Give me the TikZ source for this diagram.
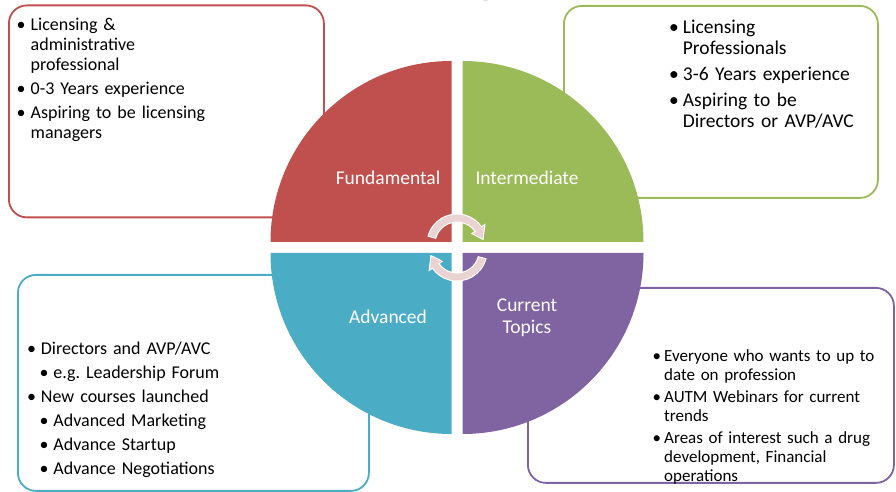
\documentclass[tikz,border=0pt]{standalone}
\usepackage{fontspec}
\setmainfont{Carlito}
\usepackage{tikz}
\usetikzlibrary{positioning}
\definecolor{qred}{HTML}{C0504D}
\definecolor{qgreen}{HTML}{9BBB59}
\definecolor{qblue}{HTML}{4BACC6}
\definecolor{qpurple}{HTML}{8064A2}
\definecolor{cyclepink}{HTML}{EBD3D3}

\newlength{\bulsep}
\newcommand{\bitem}[2][0pt]{\noindent\hspace*{#1}%
  \hangindent=\dimexpr#1+\bulsep\relax\hangafter=1%
  \makebox[\bulsep][l]{\textbullet}#2\par}

\begin{document}
\begin{tikzpicture}[
    x=1pt, y=1pt,
    infobox/.style={rectangle, rounded corners=18pt, draw=#1, line width=1.8pt,
                    fill=white, anchor=north west, inner sep=0pt},
    bullets/.style={anchor=base west, inner sep=0pt, align=left, text=black},
    quadlabel/.style={anchor=base, inner sep=0pt, text=white, align=center,
                      font=\fontsize{19.5}{22}\selectfont},
    cyclearrow/.style={fill=cyclepink, draw=white, line width=1pt}
]
\useasboundingbox (0,0) rectangle (896,492);

% cut-off title
\begin{scope}
  \clip (0,0) rectangle (896,492);
  \node[anchor=base, inner sep=0pt, font=\fontsize{60}{60}\selectfont\bfseries]
      (title) at (487,501) {g};
\end{scope}

\node[infobox=qred,    minimum width=315, minimum height=212] (fundbox)  at (8,487.5)  {};
\node[infobox=qgreen,  minimum width=314, minimum height=192] (interbox) at (563,487)  {};
\node[infobox=qblue,   minimum width=351, minimum height=216] (advbox)   at (17,218)   {};
\node[infobox=qpurple, minimum width=366, minimum height=195] (currbox)  at (527,205)  {};

\fill[qred]    (451.5,250) -- ++(-181,0) arc[start angle=180, end angle=90,  radius=181] -- cycle;
\fill[qgreen]  (462.5,250) -- ++(0,181)  arc[start angle=90,  end angle=0,   radius=181] -- cycle;
\fill[qblue]   (451.5,239) -- ++(0,-181) arc[start angle=270, end angle=180, radius=181] -- cycle;
\fill[qpurple] (462.5,239) -- ++(181,0)  arc[start angle=0,   end angle=-90, radius=181] -- cycle;

\begin{scope}[shift={(457,244.5)}]
  \draw[cyclearrow, shift={(0,3.5)}]
      (165:30) arc[start angle=165, end angle=35, radius=30] -- (35:34) -- (10:26.5)
      -- (35:18) -- (35:22) arc[start angle=35, end angle=165, radius=22] -- cycle;
  \draw[cyclearrow, rotate=180, shift={(0,3.5)}]
      (165:30) arc[start angle=165, end angle=35, radius=30] -- (35:34) -- (10:26.5)
      -- (35:18) -- (35:22) arc[start angle=35, end angle=165, radius=22] -- cycle;
\end{scope}

\node[quadlabel] (fund)  at (388,307)   {Fundamental};
\node[quadlabel] (inter) at (527,307)   {Intermediate};
\node[quadlabel] (adv)   at (388,168.7) {Advanced};
\node[quadlabel] (curr)  at (527,158.7) {Current\\Topics};

\node[bullets, font=\fontsize{18}{20}\selectfont, text width=295] (fundtext) at (16.5,461)
    {\setlength{\parskip}{4pt}\setlength{\bulsep}{14pt}%
     \bitem{Licensing \&\newline administrative\newline professional}%
     \bitem{0-3 Years experience}%
     \bitem{Aspiring to be licensing\newline managers}};
\node[bullets, font=\fontsize{19.5}{21}\selectfont, text width=200] (intertext) at (669,458)
    {\setlength{\parskip}{5pt}\setlength{\bulsep}{13.7pt}%
     \bitem{Licensing\newline Professionals}%
     \bitem{3-6 Years experience}%
     \bitem{Aspiring to be\newline Directors or AVP/AVC}};
\node[bullets, font=\fontsize{18}{24}\selectfont, text width=320] (advtext) at (27,137)
    {\setlength{\bulsep}{13.7pt}%
     \bitem{Directors and AVP/AVC}%
     \bitem[12.5pt]{e.g.\ Leadership Forum}%
     \bitem{New courses launched}%
     \bitem[12.5pt]{Advanced Marketing}%
     \bitem[12.5pt]{Advance Startup}%
     \bitem[12.5pt]{Advance Negotiations}};
\node[bullets, font=\fontsize{17}{19}\selectfont, text width=236] (currtext) at (652.5,130.3)
    {\setlength{\parskip}{3pt}\setlength{\bulsep}{11.5pt}%
     \bitem{Everyone who wants to up to\newline date on profession}%
     \bitem{AUTM Webinars for current\newline trends}%
     \bitem{Areas of interest such a drug\newline development, Financial\newline operations}};
\end{tikzpicture}
\end{document}
